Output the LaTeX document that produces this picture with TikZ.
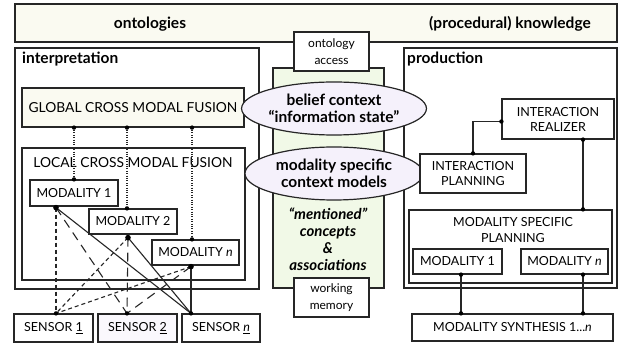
\documentclass[tikz,border=0pt]{standalone}
\usepackage{fontspec}
\setmainfont{Lato}
\usetikzlibrary{shapes.geometric}

\definecolor{paper}{RGB}{250,250,241}
\definecolor{memgreen}{RGB}{241,249,231}
\definecolor{lilac}{RGB}{245,241,251}
\definecolor{sensorfill}{RGB}{250,248,253}

\tikzset{
  frame/.style={draw=black!85, line width=1.2pt, inner sep=0pt},
  box/.style={frame, fill=white, align=center, font=\fontsize{12.5}{15}\selectfont},
  bubble/.style={ellipse, frame, fill=lilac, align=center, font=\fontsize{15.5}{16.5}\selectfont\bfseries},
  heading/.style={inner sep=0pt, font=\fontsize{15.5}{17}\selectfont\bfseries},
  caption/.style={inner sep=0pt, align=center, font=\fontsize{12.5}{16}\selectfont},
  link/.style={line width=1.1pt, draw=black!85},
  dotlink/.style={link, dash pattern=on 1pt off 1.4pt},
  shortdash/.style={link, dash pattern=on 4pt off 3pt},
  longdash/.style={link, dash pattern=on 9pt off 6pt},
}

\begin{document}
\begin{tikzpicture}[x=1pt,y=-1pt]
\useasboundingbox (0,0) rectangle (627,347);

% Top band
\node[frame, fill=paper, minimum width=602pt, minimum height=38pt] (band) at (316,23) {};
\node[heading] (onto) at (150,24) {ontologies};
\node[heading] (know) at (510,24) {(procedural) knowledge};

% Interpretation and production frames
\node[frame, fill=white, minimum width=244pt, minimum height=241pt] (interp) at (137,168.5) {};
\node[heading, anchor=west] (interplbl) at (22,59) {interpretation};
\node[frame, fill=white, minimum width=213pt, minimum height=240pt] (prod) at (510.5,168) {};
\node[heading, anchor=west] (prodlbl) at (407,59) {production};

% Working memory strip
\node[frame, fill=memgreen, minimum width=111pt, minimum height=220pt] (strip) at (328.5,178) {};
\node[caption, font=\fontsize{15}{17}\selectfont\bfseries\itshape] (mention) at (328,239)
  {“mentioned”\\concepts\\\&\\associations};

% Fusion boxes
\node[box, fill=paper, minimum width=222pt, minimum height=39pt, font=\fontsize{13.8}{15}\selectfont] (glob) at (133,107.5) {GLOBAL CROSS MODAL FUSION};
\node[box, minimum width=223pt, minimum height=132pt] (locl) at (133.5,214) {};
\node[caption, font=\fontsize{13.8}{15}\selectfont] (locllbl) at (133,163) {LOCAL CROSS MODAL FUSION};

% Modalities
\node[box, minimum width=88pt, minimum height=26pt] (m1) at (74,193) {MODALITY 1};
\node[box, minimum width=88pt, minimum height=25pt] (m2) at (133,221.5) {MODALITY 2};
\node[box, minimum width=87pt, minimum height=25pt] (mn) at (195.5,252.5) {MODALITY \textit{n}};

% Sensors
\node[box, minimum width=79pt, minimum height=28pt] (s1) at (53.5,328) {SENSOR \underline{1}};
\node[box, fill=sensorfill, minimum width=79pt, minimum height=28pt] (s2) at (137.5,328) {SENSOR \underline{2}};
\node[box, minimum width=78pt, minimum height=28pt] (sn) at (221,328) {SENSOR \underline{\textit{n}}};

% Context bubbles
\node[bubble, minimum width=182pt, minimum height=53pt] (belief) at (334,108.5)
  {belief context\\“information state”};
\node[bubble, minimum width=178pt, minimum height=53pt] (modctx) at (334,173.5)
  {modality specific\\context models};

% Access boxes
\node[box, minimum width=75pt, minimum height=39pt, font=\fontsize{12}{17}\selectfont] (ontacc) at (331.5,51.5) {ontology\\access};
\node[box, minimum width=75pt, minimum height=39pt, font=\fontsize{12}{17}\selectfont] (workmem) at (331.5,297.5) {working\\memory};

% Production boxes
\node[box, minimum width=112pt, minimum height=40pt] (real) at (558,119) {INTERACTION\\REALIZER};
\node[box, minimum width=106pt, minimum height=39pt] (plan) at (473,173.5) {INTERACTION\\PLANNING};
\node[box, minimum width=203pt, minimum height=73pt] (msp) at (510.5,246.5) {};
\node[caption] (msplbl) at (513,230.5) {MODALITY SPECIFIC\\PLANNING};
\node[box, minimum width=89pt, minimum height=25pt] (pm1) at (457.5,261.5) {MODALITY 1};
\node[box, minimum width=87pt, minimum height=25pt] (pmn) at (564.5,261.5) {MODALITY \textit{n}};
\node[box, minimum width=201pt, minimum height=27pt] (synth) at (512.5,327.5) {MODALITY SYNTHESIS 1...\textit{n}};

% Ports
\coordinate (g1) at (m1.north |- glob.south);
\coordinate (g2) at ([xshift=-6pt]m2.north |- glob.south);
\coordinate (g3) at ([xshift=-3.5pt]mn.north |- glob.south);
\coordinate (m1i) at (m1.north);
\coordinate (m2i) at ([xshift=-6pt]m2.north);
\coordinate (mni) at ([xshift=-3.5pt]mn.north);
\coordinate (m1o) at ([xshift=-18pt,yshift=-1pt]m1.south);
\coordinate (m2o) at ([xshift=-5pt,yshift=-3pt]m2.south);
\coordinate (mno) at ([xshift=-4.5pt,yshift=-1pt]mn.south);
\coordinate (s1i) at ([xshift=2.5pt]s1.north);
\coordinate (s2i) at ([xshift=-10.5pt]s2.north);
\coordinate (sni) at ([xshift=-30pt]sn.north);
\coordinate (pli) at (plan.north);
\coordinate (rli) at ([yshift=-2.5pt]real.west);
\coordinate (rlo) at ([xshift=25pt]real.south);
\coordinate (mspi) at (rlo |- msp.north);
\coordinate (p1o) at ([xshift=3.5pt]pm1.south);
\coordinate (pno) at ([xshift=18.5pt]pmn.south);
\coordinate (sy1) at (p1o |- synth.north);
\coordinate (syn) at (pno |- synth.north);

% Global to local fusion
\draw[dotlink] (g1) -- (m1i);
\draw[dotlink] (g2) -- (m2i);
\draw[dotlink] (g3) -- (mni);

% Modalities to sensors
\draw[shortdash] (m1o) -- (s1i);
\draw[shortdash] (m2o) -- (s1i);
\draw[shortdash] (mno) -- (s1i);
\draw[longdash] (m1o) -- (s2i);
\draw[longdash] (m2o) -- (s2i);
\draw[longdash] (mno) -- (s2i);
\draw[link] (m1o) -- (sni);
\draw[link] (m2o) -- (sni);
\draw[link] (mno) -- (sni);

% Production links
\draw[link] (pli) |- (rli);
\draw[link] (rlo) -- (mspi);
\draw[link] (p1o) -- (sy1);
\draw[link] (pno) -- (syn);

% Dots
\foreach \p in {g1,g2,g3,m1i,m2i,mni,s1i,s2i,sni,pli,rli,rlo,mspi,p1o,pno,sy1,syn}
  \fill[black] (\p) circle (2.2);
\foreach \p in {m1o,m2o,mno}
  \fill[black] (\p) circle (2.8);

\end{tikzpicture}
\end{document}
